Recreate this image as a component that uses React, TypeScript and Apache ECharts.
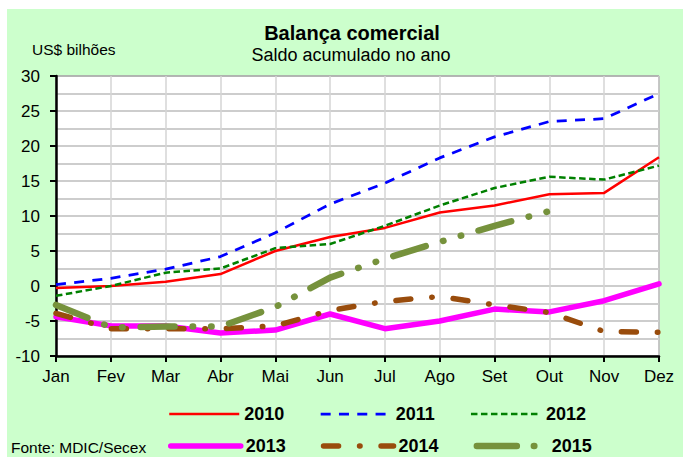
import React, { useEffect, useRef } from "react";
import * as echarts from "echarts";

const months = ["Jan", "Fev", "Mar", "Abr", "Mai", "Jun", "Jul", "Ago", "Set", "Out", "Nov", "Dez"];
const s2010 = [-0.3, 0.0, 0.6, 1.7, 5.0, 7.0, 8.3, 10.5, 11.5, 13.1, 13.3, 18.4];
const s2011 = [0.2, 1.1, 2.4, 4.2, 7.6, 11.7, 14.7, 18.3, 21.3, 23.5, 23.9, 27.5];
const s2012 = [-1.4, 0.0, 1.9, 2.5, 5.4, 6.0, 8.6, 11.5, 14.0, 15.6, 15.2, 17.2];
const s2013 = [-4.4, -5.7, -5.7, -6.7, -6.3, -4.0, -6.1, -5.0, -3.3, -3.7, -2.1, 0.3];
const s2014 = [-3.9, -6.1, -6.1, -6.1, -5.7, -3.5, -2.2, -1.5, -2.7, -3.8, -6.5, -6.6];
const s2015 = [-2.7, -5.9, -5.8, -5.8, -3.0, 1.2, 3.9, 6.3, 8.6, 10.7];

const titleText = "Balança comercial";
const subtitleText = "Saldo acumulado no ano";
const unitText = "US$ bilhões";
const sourceText = "Fonte: MDIC/Secex";

const FONT = "'Liberation Sans', Arial, sans-serif";

export default function App() {
  const ref = useRef<HTMLDivElement>(null);
  useEffect(() => {
    if (!ref.current) return;
    const chart = echarts.init(ref.current, undefined, { renderer: "svg" });
    const mk = (name: string, data: number[], color: string, width: number, type: any, cap: string) => ({
      name,
      type: "line",
      data,
      symbol: "none",
      showSymbol: false,
      smooth: false,
      lineStyle: { color, width, type, cap, join: "round" },
      itemStyle: { color },
    });
    const legendBase = {
      left: 168,
      padding: 0,
      itemWidth: 70,
      itemHeight: 14,
      itemGap: 35,
      selectedMode: false,
      itemStyle: { opacity: 0, borderWidth: 0 },
      lineStyle: { width: "inherit", type: "inherit", cap: "inherit" },
      textStyle: { fontSize: 18, fontWeight: "bold", color: "#000", fontFamily: FONT },
    };
    chart.setOption({
      animation: false,
      backgroundColor: "#ffffff",
      textStyle: { fontFamily: FONT },
      graphic: [
        {
          type: "rect",
          z: -10,
          silent: true,
          shape: { x: 7, y: 9, width: 676, height: 448 },
          style: { fill: "#ccffcc" },
        },
        {
          type: "text",
          x: 352,
          y: 33,
          style: {
            text: titleText,
            font: `bold 20px ${FONT}`,
            fill: "#000",
            textAlign: "center",
            textVerticalAlign: "middle",
          },
        },
        {
          type: "text",
          x: 351,
          y: 55,
          style: {
            text: subtitleText,
            font: `18px ${FONT}`,
            fill: "#000",
            textAlign: "center",
            textVerticalAlign: "middle",
          },
        },
        {
          type: "text",
          x: 32,
          y: 49,
          style: {
            text: unitText,
            font: `15.5px ${FONT}`,
            fill: "#000",
            textAlign: "left",
            textVerticalAlign: "middle",
          },
        },
        {
          type: "text",
          x: 11,
          y: 447,
          style: {
            text: sourceText,
            font: `15.5px ${FONT}`,
            fill: "#000",
            textAlign: "left",
            textVerticalAlign: "middle",
          },
        },
      ],
      legend: [
        { ...legendBase, data: ["2010", "2011", "2012"], top: 405 },
        {
          ...legendBase,
          data: [
            "2013",
            "2014",
            { name: "2015", lineStyle: { width: 6.5, type: [40, 17, 0.5, 17], cap: "round" } },
          ],
          top: 437,
        },
      ],
      grid: {
        left: 56,
        right: 24,
        top: 76,
        bottom: 101,
        show: true,
        backgroundColor: "#ffffff",
        borderColor: "#404040",
        borderWidth: 1,
        containLabel: false,
      },
      xAxis: {
        type: "category",
        data: months,
        boundaryGap: false,
        axisLine: { show: true, onZero: false, lineStyle: { color: "#000", width: 2.5 } },
        axisTick: { show: true, length: 6, lineStyle: { color: "#000", width: 2 } },
        axisLabel: { color: "#000", fontSize: 17, margin: 12, fontFamily: FONT },
        splitLine: { show: true, lineStyle: { color: "#d4d4d4", width: 1.5 } },
      },
      yAxis: {
        type: "value",
        min: -10,
        max: 30,
        interval: 5,
        axisLine: { show: true, lineStyle: { color: "#000", width: 2.5 } },
        axisTick: { show: true, length: 6, lineStyle: { color: "#000", width: 2 } },
        axisLabel: { color: "#000", fontSize: 17, margin: 16, fontFamily: FONT },
        splitLine: { show: true, lineStyle: { color: "#bdbdbd", width: 1.5 } },
        minorTick: { show: false, splitNumber: 2 },
        minorSplitLine: { show: true, lineStyle: { color: "#bdbdbd", width: 1.5 } },
      },
      series: [
        mk("2010", s2010, "#ff0000", 2.5, "solid", "butt"),
        mk("2011", s2011, "#0000ff", 2.75, [10, 8.3], "butt"),
        mk("2012", s2012, "#008000", 2.5, [6.5, 3.5], "butt"),
        mk("2013", s2013, "#ff00ff", 5.5, "solid", "round"),
        mk("2014", s2014, "#994c0c", 5.5, [15, 21, 0.5, 21], "round"),
        mk("2015", s2015, "#76923c", 6.5, [34, 18, 0.5, 18, 0.5, 18], "round"),
      ],
    });
    return () => chart.dispose();
  }, []);
  return (
    <div
      ref={ref}
      style={{ position: "fixed", left: 0, top: 0, width: 683, height: 457 }}
    />
  );
}
